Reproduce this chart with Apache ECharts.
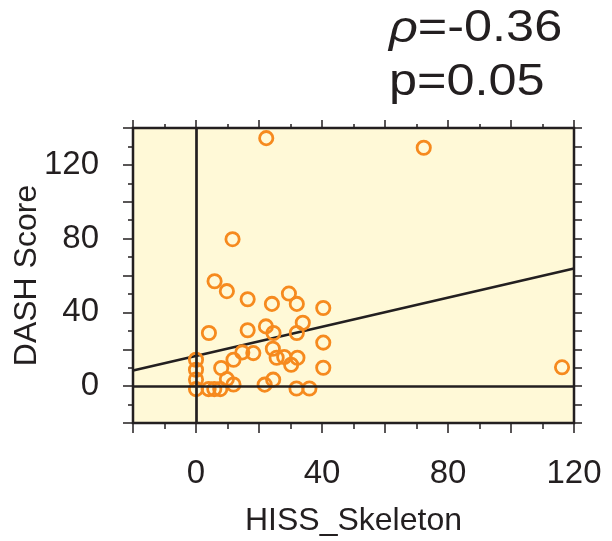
<!DOCTYPE html>
<html>
<head>
<meta charset="utf-8">
<script src="https://cdn.jsdelivr.net/npm/echarts@6/dist/echarts.min.js"></script>
<style>html,body{margin:0;padding:0;background:#fff;}#c{width:612px;height:541px;}</style>
</head>
<body>
<div id="c"></div>
<script>
// Data
const hissSkeleton = [22.3, 11.6, 72.3, 116.2, 5.9, 9.8, 16.4, 24.1, 29.5, 32, 40.4,
  4.1, 16.4, 22.2, 24.6, 33.9, 32, 40.4, 24.4, 18.2, 14.7, 11.9, 8.0, 25.6, 28, 30.2,
  32.2, 40.4, 0, 0, 0, 0, 9.8, 11.9, 4.0, 5.8, 7.7, 21.8, 24.5, 31.9, 36];
const dashScore = [134.5, 79.7, 129.3, 10.2, 56.9, 51.5, 47.1, 44.6, 50.2, 44.6, 42.4,
  28.8, 30.3, 32.4, 28.8, 34.4, 28.8, 23.6, 20.3, 17.9, 18.3, 14.3, 9.8, 15.4, 15.8, 11.6,
  15.4, 10, 14.3, 8.9, 3.6, -1.6, 3.8, 0.9, -1.6, -1.6, -1.6, 0.8, 3.5, -1.3, -1.3];
const fitX = [-20, 120];
const fitY = [8.5, 63.8];
const xTickLabels = [0, 40, 80, 120];
const yTickLabels = [0, 40, 80, 120];
const statRho = '=-0.36';
const statP = 'p=0.05';

const ink = '#231f20';
const orange = '#f68a1e';
const FONT = 'Liberation Sans, Arial, Helvetica, sans-serif';

const points = hissSkeleton.map((x, i) => [x, dashScore[i]]);
const fitLine = fitX.map((x, i) => [x, fitY[i]]);

const chart = echarts.init(document.getElementById('c'), null, {renderer: 'canvas'});

function baseAxis(extra) {
  return Object.assign({
    type: 'value',
    splitLine: {show: false},
    minorSplitLine: {show: false},
    axisLine: {show: false, onZero: false},
    nameMoveOverlap: false
  }, extra);
}

const option = {
  animation: false,
  backgroundColor: '#ffffff',
  grid: {
    left: 133, right: 38, top: 128, bottom: 118,
    containLabel: false, outerBoundsMode: 'none',
    show: true, backgroundColor: '#fff9d7', borderColor: ink, borderWidth: 2.5
  },
  xAxis: [
    baseAxis({
      position: 'bottom', min: -20, max: 120, interval: 20,
      name: 'HISS_Skeleton', nameLocation: 'middle', nameGap: 82,
      nameTextStyle: {fontFamily: FONT, fontSize: 32, color: ink},
      axisTick: {show: true, length: 10, lineStyle: {color: ink, width: 1.5}},
      minorTick: {show: true, splitNumber: 2, length: 6, lineStyle: {color: ink, width: 1.5}},
      axisLabel: {
        margin: 34, fontFamily: FONT, fontSize: 33, color: ink,
        formatter: v => xTickLabels.indexOf(v) >= 0 ? String(v) : ''
      }
    }),
    baseAxis({
      position: 'top', min: -20, max: 120, interval: 20,
      axisTick: {show: true, length: 8, lineStyle: {color: ink, width: 1.5}},
      minorTick: {show: true, splitNumber: 2, length: 4, lineStyle: {color: ink, width: 1.5}},
      axisLabel: {show: false}
    })
  ],
  yAxis: [
    baseAxis({
      position: 'left', min: -20, max: 140, interval: 20,
      name: 'DASH Score', nameLocation: 'middle', nameGap: 90,
      nameTextStyle: {fontFamily: FONT, fontSize: 32, color: ink},
      axisTick: {show: true, length: 10, lineStyle: {color: ink, width: 1.5}},
      minorTick: {show: true, splitNumber: 2, length: 5, lineStyle: {color: ink, width: 1.5}},
      axisLabel: {
        margin: 34, fontFamily: FONT, fontSize: 33, color: ink,
        formatter: v => yTickLabels.indexOf(v) >= 0 ? String(v) : ''
      }
    }),
    baseAxis({
      position: 'right', min: -20, max: 140, interval: 10,
      axisTick: {show: true, length: 8, lineStyle: {color: ink, width: 1.5}},
      axisLabel: {show: false}
    })
  ],
  series: [
    {
      type: 'line', data: fitLine, xAxisIndex: 0, yAxisIndex: 0,
      showSymbol: false, symbol: 'none', z: 2,
      lineStyle: {color: ink, width: 2.7},
      markLine: {
        silent: true, symbol: 'none', label: {show: false},
        lineStyle: {color: ink, width: 2.7, type: 'solid'},
        data: [{xAxis: 0}, {yAxis: 0}]
      }
    },
    {
      type: 'scatter', data: points, xAxisIndex: 0, yAxisIndex: 0,
      symbol: 'circle', symbolSize: 13.3, z: 3,
      itemStyle: {color: 'rgba(0,0,0,0)', borderColor: orange, borderWidth: 2.8, opacity: 1}
    }
  ],
  graphic: [
    {
      type: 'text', x: 389, y: 29, scaleX: 1.12,
      style: {
        text: '{i|ρ}' + statRho,
        font: '45px ' + FONT, fill: ink, textAlign: 'left', textVerticalAlign: 'middle',
        rich: {i: {fontStyle: 'italic', fontSize: 45, fontFamily: FONT, fill: ink}}
      }
    },
    {
      type: 'text', x: 389, y: 83, scaleX: 1.12,
      style: {
        text: statP,
        font: '45px ' + FONT, fill: ink, textAlign: 'left', textVerticalAlign: 'middle'
      }
    }
  ]
};
chart.setOption(option);
</script>
</body>
</html>
